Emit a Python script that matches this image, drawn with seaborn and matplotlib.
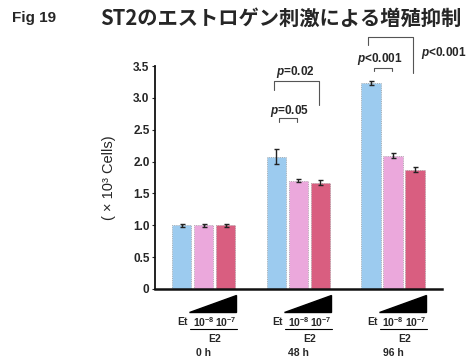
import matplotlib
matplotlib.use("Agg")
import matplotlib.pyplot as plt
import matplotlib.transforms as mtransforms
import numpy as np
import pandas as pd
import seaborn as sns

# Cell counts (x10^3) by time point and treatment
times = ["0 h", "48 h", "96 h"]
treatments = ["Et", "1e-8", "1e-7"]
means = {
    "Et":   [1.00, 2.08, 3.23],
    "1e-8": [1.00, 1.70, 2.09],
    "1e-7": [1.00, 1.67, 1.87],
}
errors = {
    "Et":   [0.02, 0.12, 0.03],
    "1e-8": [0.02, 0.02, 0.04],
    "1e-7": [0.02, 0.04, 0.04],
}
colors = ["#9ccbef", "#eba8dc", "#d95e80"]
ytick_vals = [0, 0.5, 1.0, 1.5, 2.0, 2.5, 3.0, 3.5]
ytick_labels = ["0", "0.5", "1.0", "1.5", "2.0", "2.5", "3.0", "3.5"]

sns.set_style("white")
plt.rcParams["font.family"] = ["Liberation Sans", "Noto Sans CJK JP", "DejaVu Sans"]
plt.rcParams["mathtext.fontset"] = "custom"
plt.rcParams["mathtext.rm"] = "Liberation Sans:bold"
plt.rcParams["mathtext.it"] = "Liberation Sans:italic:bold"
plt.rcParams["mathtext.bf"] = "Liberation Sans:bold"

rows = []
for tr in treatments:
    for t, m in zip(times, means[tr]):
        rows.append({"time": t, "treatment": tr, "value": m})
df = pd.DataFrame(rows)

fig = plt.figure(figsize=(4.73, 3.59), dpi=100)
ax = fig.add_axes([0.328, 0.195, 0.606, 0.621])

sns.barplot(data=df, x="time", y="value", hue="treatment", hue_order=treatments,
            order=times, palette=colors, saturation=1, width=0.695, gap=0.1,
            errorbar=None, edgecolor="#9a9a9a", linewidth=0.6, linestyle=":",
            legend=False, ax=ax)

# error bars on each bar
for tr, cont in zip(treatments, ax.containers):
    xs = [p.get_x() + p.get_width() / 2 for p in cont.patches]
    hs = [p.get_height() for p in cont.patches]
    ax.errorbar(xs, hs, yerr=errors[tr], fmt="none", ecolor="#222222",
                elinewidth=1.0, capsize=1.8, capthick=1.0, zorder=5)

ax.set_xlim(-0.51, 2.51)
ax.set_ylim(0, 3.5)
ax.set_yticks(ytick_vals)
ax.set_yticklabels(ytick_labels, fontsize=8.5, fontweight="bold")
ax.set_xticks([0, 1, 2])
ax.set_xticklabels([])
ax.tick_params(axis="y", length=2, width=0.8, pad=2, direction="out", left=True)
ax.tick_params(axis="x", length=0)
ax.set_xlabel("")
ax.set_ylabel("( × 10³ Cells)", fontsize=10.5, labelpad=12)
for s in ["top", "right"]:
    ax.spines[s].set_visible(False)
ax.spines["left"].set_linewidth(1.3)
ax.spines["bottom"].set_linewidth(1.8)
ax.spines["left"].set_color("#111111")
ax.spines["bottom"].set_color("#111111")

# treatment labels, concentration wedge and time labels under each group
trans = mtransforms.blended_transform_factory(ax.transData, ax.transAxes)
for i, t in enumerate(times):
    ax.fill([i - 0.15, i + 0.342, i + 0.342], [-0.103, -0.103, -0.027],
            color="black", transform=trans, clip_on=False)
    ax.text(i - 0.225, -0.148, "Et", transform=trans, ha="center", va="center",
            fontsize=7.5, fontweight="bold")
    ax.text(i + 0.0, -0.148, "10$^{-8}$", transform=trans, ha="center", va="center",
            fontsize=7.5, fontweight="bold")
    ax.text(i + 0.235, -0.148, "10$^{-7}$", transform=trans, ha="center", va="center",
            fontsize=7.5, fontweight="bold")
    ax.plot([i - 0.14, i + 0.35], [-0.178, -0.178], color="black", lw=0.8,
            transform=trans, clip_on=False)
    ax.text(i + 0.117, -0.226, "E2", transform=trans, ha="center", va="center",
            fontsize=7.5, fontweight="bold")
    ax.text(i, -0.287, t, transform=trans, ha="center", va="center",
            fontsize=7.5, fontweight="bold")

# significance brackets
bc = "#555555"
def bracket(x0, x1, ytop, y0, y1):
    ax.plot([x0, x0, x1, x1], [y0, ytop, ytop, y1], color=bc, lw=0.8,
            clip_on=False)

bracket(0.79, 0.98, 2.68, 2.62, 2.62)
ax.text(0.91, 2.80, "$p$=0.05", ha="center", va="center", fontsize=8.5,
        fontweight="bold", clip_on=False)
bracket(0.745, 1.215, 3.27, 3.12, 2.89)
ax.text(0.97, 3.41, "$p$=0.02", ha="center", va="center", fontsize=8.5,
        fontweight="bold", clip_on=False)
bracket(1.80, 1.985, 3.47, 3.42, 3.42)
ax.text(1.86, 3.61, "$p$<0.001", ha="center", va="center", fontsize=8.5,
        fontweight="bold", clip_on=False)
bracket(1.73, 2.205, 3.96, 3.83, 3.39)
ax.text(2.53, 3.70, "$p$<0.001", ha="center", va="center", fontsize=8.5,
        fontweight="bold", clip_on=False)

fig.text(12 / 473, 1 - 18 / 359, "Fig 19", ha="left", va="center",
         fontsize=11, fontweight="bold")
fig.text(100 / 473, 1 - 18 / 359, "ST2のエストロゲン刺激による増殖抑制", ha="left",
         va="center", fontsize=14.6, fontweight="bold",
         family=["Noto Sans CJK JP", "DejaVu Sans"])

fig.savefig("out.png", dpi=100)
